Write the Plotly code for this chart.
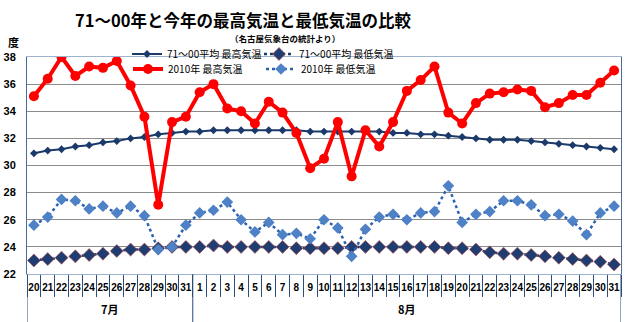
import plotly.graph_objects as go

# ---- data ----
months = ["7月"] * 12 + ["8月"] * 31
days = [str(d) for d in range(20, 32)] + [str(d) for d in range(1, 32)]

avg_max = [30.9, 31.1, 31.2, 31.4, 31.5, 31.7, 31.8, 32.0, 32.1, 32.3, 32.4, 32.5,
           32.5, 32.6, 32.6, 32.6, 32.6, 32.6, 32.6, 32.6, 32.5, 32.5, 32.5, 32.5,
           32.5, 32.5, 32.4, 32.4, 32.3, 32.3, 32.2, 32.1, 32.0, 31.9, 31.9, 31.9,
           31.8, 31.7, 31.6, 31.5, 31.4, 31.3, 31.2]
avg_min = [23.0, 23.1, 23.2, 23.3, 23.4, 23.5, 23.7, 23.8, 23.8, 23.9, 24.0, 24.0,
           24.0, 24.1, 24.0, 24.0, 24.0, 24.0, 24.0, 23.9, 23.9, 23.9, 23.9, 24.0,
           24.0, 24.0, 24.0, 24.0, 24.0, 24.0, 23.9, 23.9, 23.8, 23.6, 23.5, 23.5,
           23.4, 23.3, 23.2, 23.1, 23.0, 22.9, 22.7]
max2010 = [35.1, 36.4, 38.0, 36.6, 37.3, 37.2, 37.7, 35.9, 33.6, 27.1, 33.2, 33.6,
           35.4, 36.0, 34.2, 34.0, 33.1, 34.7, 33.9, 32.4, 29.8, 30.5, 33.2, 29.2,
           32.6, 31.4, 33.2, 35.5, 36.3, 37.3, 33.9, 33.1, 34.6, 35.3, 35.4, 35.6,
           35.5, 34.3, 34.6, 35.2, 35.2, 36.1, 37.0]
min2010 = [25.6, 26.2, 27.5, 27.4, 26.8, 27.0, 26.5, 27.0, 26.3, 23.8, 24.0, 25.6,
           26.5, 26.7, 27.3, 26.0, 25.1, 25.8, 24.9, 25.0, 24.6, 26.0, 25.4, 23.3,
           25.3, 26.2, 26.4, 26.0, 26.5, 26.6, 28.5, 25.8, 26.4, 26.6, 27.4, 27.4,
           27.1, 26.3, 26.4, 25.9, 24.9, 26.5, 27.0]

names = ["71～00平均 最高気温", "71～00平均 最低気温", "2010年 最高気温", "2010年 最低気温"]

FONT = "Liberation Sans, Noto Sans CJK JP"
JP = "Noto Sans CJK JP"

n = len(days)
idx = list(range(n))
boundaries = [i - 0.5 for i in range(n + 1)]

# month groups (derived from the category list)
groups = []
for i, m in enumerate(months):
    if not groups or groups[-1][0] != m:
        groups.append([m, i, i])
    else:
        groups[-1][2] = i

fig = go.Figure()
fig.add_trace(go.Scatter(
    x=idx, y=avg_max, name=names[0], mode="lines+markers", legend="legend",
    line=dict(color="#1B3A6B", width=2),
    marker=dict(symbol="diamond", size=6, color="#1B3A6B")))
fig.add_trace(go.Scatter(
    x=idx, y=avg_min, name=names[1], mode="lines+markers", legend="legend2",
    line=dict(color="#1B3A6B", width=2.5, dash="dot"),
    marker=dict(symbol="diamond", size=10, color="#1F3D70",
                line=dict(color="#C0504D", width=0.6))))
fig.add_trace(go.Scatter(
    x=idx, y=max2010, name=names[2], mode="lines+markers", legend="legend3",
    line=dict(color="#FF0000", width=4),
    marker=dict(symbol="circle", size=10, color="#FF0000")))
fig.add_trace(go.Scatter(
    x=idx, y=min2010, name=names[3], mode="lines+markers", legend="legend4",
    line=dict(color="#2A62B0", width=2.5, dash="dot"),
    marker=dict(symbol="diamond", size=9, color="#4F81C6")))

shapes = []
sep_x = [-0.5] + [g[2] + 0.5 for g in groups]
for sx in sep_x:
    shapes.append(dict(type="line", xref="x", yref="paper", x0=sx, x1=sx,
                       y0=0, y1=-48 / 217, line=dict(color="#2B4C7E", width=1)))

annotations = [
    dict(text="（名古屋気象台の統計より）", xref="paper", yref="paper",
         x=(285 - 27) / 594, y=(274 - 38) / 217, xanchor="center", yanchor="middle",
         showarrow=False, font=dict(family=JP, size=8.5, weight="bold")),
    dict(text="度", xref="paper", yref="paper",
         x=(13 - 27) / 594, y=(274 - 42) / 217, xanchor="center", yanchor="middle",
         showarrow=False, font=dict(family=JP, size=11, weight="bold")),
]
for m, a, b in groups:
    annotations.append(dict(text=m, xref="x", yref="paper", x=(a + b) / 2,
                            y=(274 - 309) / 217, xanchor="center", yanchor="middle",
                            showarrow=False,
                            font=dict(family=JP, size=11, weight="bold", color="black")))

leg_common = dict(orientation="h", xanchor="left", yanchor="middle",
                  font=dict(family=JP, size=10, color="black"),
                  bgcolor="rgba(0,0,0,0)", itemwidth=30)

fig.update_layout(
    width=630, height=322,
    margin=dict(l=27, r=9, t=57, b=48),
    paper_bgcolor="white", plot_bgcolor="white",
    font=dict(family=FONT, color="black"),
    title=dict(text="71～00年と今年の最高気温と最低気温の比較",
               font=dict(family=JP, size=16.5, weight="bold", color="black"),
               x=243 / 630, xanchor="center", xref="container",
               y=1 - 21 / 322, yanchor="middle", yref="container"),
    showlegend=True,
    legend=dict(x=(127 - 27) / 594, y=(274 - 54) / 217, **leg_common),
    legend2=dict(x=(259 - 27) / 594, y=(274 - 54) / 217, **leg_common),
    legend3=dict(x=(128 - 27) / 594, y=(274 - 69) / 217, **leg_common),
    legend4=dict(x=(261 - 27) / 594, y=(274 - 69) / 217, **leg_common),
    shapes=shapes,
    annotations=annotations,
)

fig.update_xaxes(
    range=[-0.5, n - 0.5], showgrid=False, zeroline=False,
    tickmode="array", tickvals=idx, ticktext=days, ticks="", tickangle=0,
    ticklabelstandoff=4,
    minor=dict(tickmode="array", tickvals=boundaries, ticks="outside",
               ticklen=22, tickcolor="#2B4C7E", tickwidth=1, showgrid=False),
    showline=True, linecolor="#9FB3CF", linewidth=1, mirror=True,
    tickfont=dict(family=FONT, size=10, weight="bold", color="black"),
    automargin=False,
)
fig.update_yaxes(
    range=[22, 38], dtick=2, showgrid=True, gridcolor="#8C8C8C", gridwidth=1,
    showline=True, linecolor="#4A6A9A", linewidth=1, mirror=True,
    ticks="", ticklabelstandoff=8,
    tickfont=dict(family=FONT, size=11, weight="bold", color="black"),
    zeroline=False, automargin=False,
)

fig.write_html("out.html")
